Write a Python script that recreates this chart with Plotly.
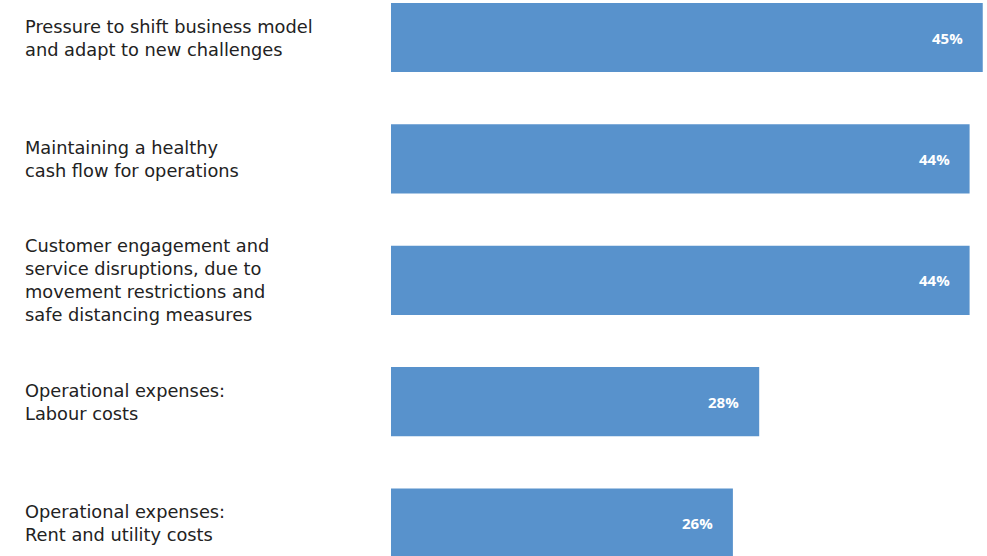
import plotly.graph_objects as go

categories = [
    "Pressure to shift business model<br>and adapt to new challenges",
    "Maintaining a healthy<br>cash flow for operations",
    "Customer engagement and<br>service disruptions, due to<br>movement restrictions and<br>safe distancing measures",
    "Operational expenses:<br>Labour costs",
    "Operational expenses:<br>Rent and utility costs",
]
values = [45, 44, 44, 28, 26]
value_labels = ["45%", "44%", "44%", "28%", "26%"]

W, H = 987, 556
L = 391
pos = list(range(len(values)))

fig = go.Figure()
fig.add_trace(go.Bar(
    x=values, y=pos, orientation="h",
    marker=dict(color="#5892CC", line=dict(width=0)),
    width=0.57, hoverinfo="skip",
))

annotations = []
for i, (c, v, t) in enumerate(zip(categories, values, value_labels)):
    annotations.append(dict(
        x=(23 - L) / (W - L), xref="paper", y=i, yref="y",
        text=c, showarrow=False, xanchor="left", yanchor="middle", align="left",
        font=dict(family="DejaVu Sans, sans-serif", size=17.8, color="#222222"),
    ))
    annotations.append(dict(
        x=v, xref="x", y=i, yref="y", text="<b>" + t + "</b>", showarrow=False,
        xanchor="right", yanchor="middle", xshift=-18,
        font=dict(family="Open Sans, sans-serif", size=15, color="white"),
    ))

fig.update_layout(
    width=W, height=H,
    margin=dict(l=L, r=0, t=0, b=0),
    paper_bgcolor="white", plot_bgcolor="white",
    showlegend=False,
    xaxis=dict(range=[0, (W - L) / 13.15], visible=False, fixedrange=True),
    yaxis=dict(range=[4.271, -0.309], visible=False, fixedrange=True),
    annotations=annotations,
)
fig.write_html("out.html")
